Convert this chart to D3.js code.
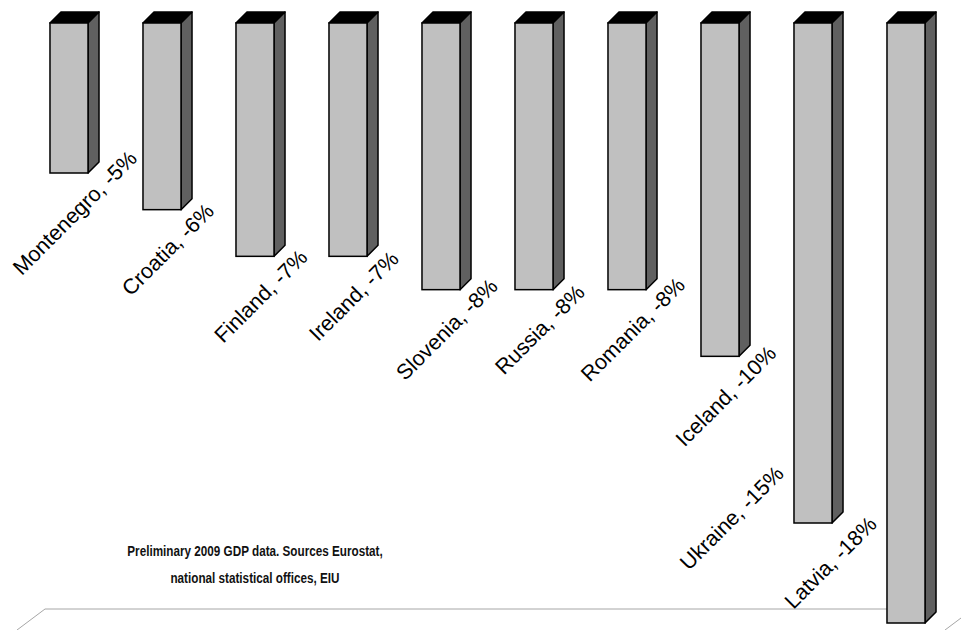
<!DOCTYPE html>
<html>
<head>
<meta charset="utf-8">
<script src="https://cdn.jsdelivr.net/npm/d3@7"></script>
<style>
  html, body { margin: 0; padding: 0; background: #fff; }
  svg { display: block; }
</style>
</head>
<body>
<svg id="chart" width="961" height="630"></svg>
<script>
// ---- data ----
const countries = ["Montenegro", "Croatia", "Finland", "Ireland", "Slovenia", "Russia", "Romania", "Iceland", "Ukraine", "Latvia"];
const gdpChange = [-4.5, -5.6, -7.0, -7.0, -8.0, -8.0, -8.0, -10.0, -15.0, -18.0];
const valueLabels = ["-5%", "-6%", "-7%", "-7%", "-8%", "-8%", "-8%", "-10%", "-15%", "-18%"];
const noteLines = ["Preliminary 2009 GDP data. Sources Eurostat,", "national statistical offices, EIU"];

// ---- layout ----
const W = 961, H = 630;
const depth = 11;           // 3D offset (right / up)
const floorY = 609;

const svg = d3.select("#chart");

const x = d3.scaleBand()
  .domain(countries)
  .range([22.5, 952.5])
  .paddingInner(0.591)
  .paddingOuter(0.2955);

const y = d3.scaleLinear()
  .domain([0, -18])
  .range([23, 623]);

// floor
const floorG = svg.append("g").attr("fill", "none").attr("stroke", "#a6a6a6").attr("stroke-width", 1);
const lastRight = x(countries[countries.length - 1]) + x.bandwidth();
floorG.append("path").attr("d", d3.line()([[17, H], [17 + 28, floorY], [lastRight, floorY]]));
floorG.append("path").attr("d", d3.line()([[945, H], [W, 618]]));

// bars
const bars = svg.append("g").selectAll("g").data(countries).join("g");
bars.each(function(c, i) {
  const g = d3.select(this);
  const x0 = x(c), w = x.bandwidth();
  const top = y(0), bot = y(gdpChange[i]);
  const line = d3.line();
  g.append("path")
    .attr("d", line([[x0, top], [x0 + depth, top - depth], [x0 + w + depth, top - depth], [x0 + w, top]]) + "Z")
    .attr("fill", "#000").attr("stroke", "#000").attr("stroke-width", 1.5).attr("stroke-linejoin", "round");
  g.append("path")
    .attr("d", line([[x0 + w, top], [x0 + w + depth, top - depth], [x0 + w + depth, bot - depth], [x0 + w, bot]]) + "Z")
    .attr("fill", "#606060").attr("stroke", "#000").attr("stroke-width", 1.5).attr("stroke-linejoin", "round");
  g.append("rect")
    .attr("x", x0).attr("y", top).attr("width", w).attr("height", bot - top)
    .attr("fill", "#c0c0c0").attr("stroke", "#000").attr("stroke-width", 1.5);
});

// labels (rotated -45deg)
const r = Math.SQRT1_2;
const labG = svg.append("g")
  .attr("font-family", "Arial, 'Liberation Sans', sans-serif")
  .attr("font-size", 21.5).attr("fill", "#000");
countries.forEach((c, i) => {
  const t = labG.append("text").text(c + ", " + valueLabels[i]);
  const L = t.node().getComputedTextLength();
  const cx = x(c) + x.bandwidth() / 2;
  const bot = y(gdpChange[i]);
  let px = cx + 11, py = bot + 45;           // baseline centre, below bar
  if (py + (L / 2) * r > floorY) {
    // not enough room: put it left of the bar, ending near its side
    let ex = x(c) - 9, ey = bot - 48;
    if (ey + L * r > floorY + 1) ey = floorY + 1 - L * r;
    px = ex - (L / 2) * r; py = ey + (L / 2) * r;
  }
  t.attr("text-anchor", "middle")
   .attr("transform", `translate(${px},${py}) rotate(-45)`);
});

// note
const note = svg.append("text")
  .attr("font-family", "Arial, 'Liberation Sans', sans-serif")
  .attr("font-size", 14).attr("font-weight", "bold").attr("fill", "#111")
  .attr("text-anchor", "middle");
noteLines.forEach((s, i) => {
  const ts = note.append("tspan").attr("x", 255).attr("y", 556 + i * 27).text(s);
  const len = ts.node().getComputedTextLength();
  ts.attr("textLength", len * 0.836).attr("lengthAdjust", "spacingAndGlyphs");
});
</script>
</body>
</html>
